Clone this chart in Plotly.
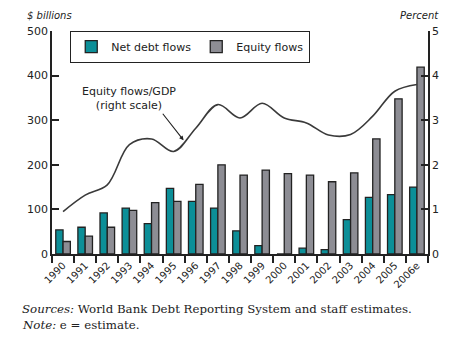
import plotly.graph_objects as go

years = ["1990", "1991", "1992", "1993", "1994", "1995", "1996", "1997", "1998",
         "1999", "2000", "2001", "2002", "2003", "2004", "2005", "2006e"]
net_debt = [54, 60, 92, 103, 68, 147, 118, 103, 52, 19, 0, 13, 10, 77, 127, 133, 150]
equity = [28, 40, 60, 98, 115, 118, 156, 200, 177, 188, 180, 177, 162, 182, 258, 348, 419]
equity_gdp = [0.95, 1.32, 1.55, 2.45, 2.58, 2.30, 2.82, 3.35, 3.05, 3.38, 3.05, 2.94, 2.67, 2.68, 3.09, 3.65, 3.8]

teal = "#0c8f98"
gray = "#8d8d94"
edge = "#222222"

fig = go.Figure()
fig.add_trace(go.Bar(x=years, y=net_debt, name="Net debt flows",
                     marker=dict(color=teal, line=dict(color=edge, width=1.3))))
fig.add_trace(go.Bar(x=years, y=equity, name="Equity flows",
                     marker=dict(color=gray, line=dict(color=edge, width=1.3))))
fig.add_trace(go.Scatter(x=years, y=equity_gdp, yaxis="y2", mode="lines",
                         line=dict(color="#3a3a3a", width=1.6, shape="spline", smoothing=1.0),
                         showlegend=False))

font = "DejaVu Sans, Liberation Sans, sans-serif"
serif = "DejaVu Serif, Liberation Serif, serif"
fig.update_layout(
    width=467, height=341,
    margin=dict(l=52, r=39, t=31, b=87),
    paper_bgcolor="white", plot_bgcolor="white",
    barmode="group", bargap=0.34, bargroupgap=0,
    font=dict(family=font, size=11, color="#222"),
    showlegend=True,
    legend=dict(orientation="h", x=0.048, y=1.0, xanchor="left", yanchor="top",
                bordercolor="#222", borderwidth=1.2, bgcolor="white",
                font=dict(size=11), itemwidth=30, tracegroupgap=0,
                traceorder="normal"),
    xaxis=dict(type="category", showline=True, linecolor="#222", linewidth=1.5,
               ticks="outside", tickson="boundaries", ticklen=7, tickwidth=1.5,
               tickcolor="#222", tickangle=-45, tickfont=dict(size=10),
               showgrid=False, zeroline=False, range=[-0.5, 16.5]),
    yaxis=dict(range=[0, 500], dtick=100, showline=True, linecolor="#222", linewidth=1.5,
               ticks="inside", ticklen=7, tickwidth=1.5, tickcolor="#222",
               showgrid=False, zeroline=False, tickfont=dict(size=11)),
    yaxis2=dict(range=[0, 5], dtick=1, overlaying="y", side="right", showline=True,
                linecolor="#222", linewidth=1.5, ticks="inside", ticklen=7, tickwidth=1.5,
                tickcolor="#222", showgrid=False, zeroline=False, tickfont=dict(size=11)),
)

fig.add_annotation(xref="paper", yref="paper", x=-0.072, y=1.035, xanchor="left", yanchor="bottom",
                   text="<i>$ billions</i>", showarrow=False, font=dict(size=10, family=font))
fig.add_annotation(xref="paper", yref="paper", x=1.035, y=1.035, xanchor="right", yanchor="bottom",
                   text="<i>Percent</i>", showarrow=False, font=dict(size=10, family=font))
fig.add_annotation(x=5.45, y=2.55, xref="x", yref="y2", ax=-22, ay=-28,
                   text="", showarrow=True, arrowhead=2, arrowsize=0.8, arrowwidth=1.1,
                   arrowcolor="#222")
fig.add_annotation(x=3.0, y=3.48, xref="x", yref="y2", xanchor="center", yanchor="middle",
                   text="Equity flows/GDP<br>(right scale)", showarrow=False,
                   font=dict(size=11, family=font), align="center")
fig.add_annotation(xref="paper", yref="paper", x=-0.085, y=-0.247, xanchor="left", yanchor="middle",
                   text="<i>Sources:</i> World Bank Debt Reporting System and staff estimates.",
                   showarrow=False, align="left", font=dict(size=11.8, family=serif))
fig.add_annotation(xref="paper", yref="paper", x=-0.085, y=-0.318, xanchor="left", yanchor="middle",
                   text="<i>Note:</i> e = estimate.",
                   showarrow=False, align="left", font=dict(size=11.8, family=serif))

fig.write_html("out.html")
